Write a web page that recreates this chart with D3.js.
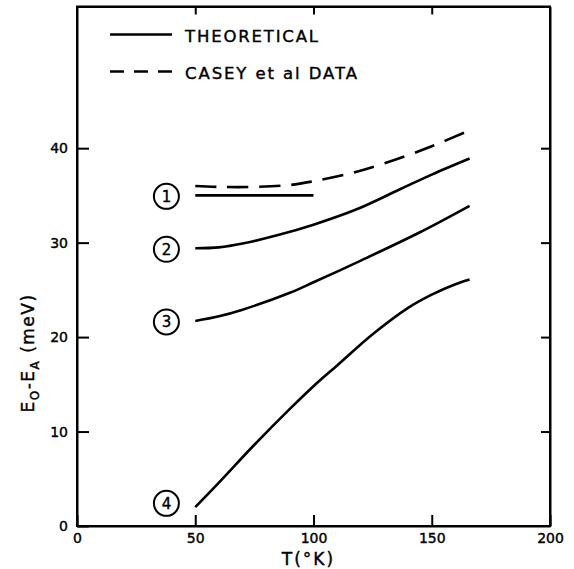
<!DOCTYPE html>
<html>

<head>
	<meta charset="utf-8">
	<script src="https://d3js.org/d3.v7.min.js"></script>
	<style>
		body {
			margin: 0;
			background-color: white;
			font-family: 'DejaVu Sans', sans-serif;
		}

		text {
			fill: black;
			stroke: black;
			stroke-width: 0.4px;
		}

		.axis path,
		.axis line {
			stroke: black;
			stroke-width: 2;
		}

		.axis text {
			font-size: 14px;
			font-family: 'DejaVu Sans', sans-serif;
		}
	</style>
</head>

<body>
	<div id="chart"></div>

	<script>
		// curve data (T in K, E0-EA in meV)
		var caseyT = [50, 60, 75, 90, 100, 115, 130, 150, 166];
		var caseyE = [36.0, 35.9, 35.9, 36.1, 36.5, 37.3, 38.4, 40.2, 41.9];

		var curve1T = [50, 100];
		var curve1E = [35, 35];

		var curve2T = [50, 60, 70, 85, 100, 118, 137, 150, 166];
		var curve2E = [29.4, 29.5, 29.9, 30.8, 31.9, 33.5, 35.7, 37.2, 38.9];

		var curve3T = [50, 60, 70, 90, 100, 120, 145, 166];
		var curve3E = [21.7, 22.2, 22.9, 24.7, 25.8, 28.1, 31.1, 33.9];

		var curve4T = [50, 60, 75, 90, 100, 110, 125, 140, 150, 160, 166];
		var curve4E = [2.0, 4.6, 8.6, 12.4, 14.8, 17.0, 20.3, 23.1, 24.5, 25.6, 26.1];

		// circled curve numbers
		var markerLabels = ["1", "2", "3", "4"];
		var markerT = [37.8, 37.8, 37.8, 37.8];
		var markerE = [34.9, 29.3, 21.6, 2.4];

		var xTicks = [0, 50, 100, 150, 200];
		var yTicks = [0, 10, 20, 30, 40];
		var legendNames = ["THEORETICAL", "CASEY et al DATA"];

		var margin = { top: 6.5, right: 24, bottom: 43, left: 77 };
		var width = 574 - margin.left - margin.right,
			height = 569 - margin.top - margin.bottom;

		var svg = d3.select("#chart")
			.append("svg")
			.attr("width", 574)
			.attr("height", 569)
			.append("g")
			.attr("transform", "translate(" + margin.left + "," + margin.top + ")");

		var x = d3.scaleLinear().domain([0, 200]).range([0, width]);
		var y = d3.scaleLinear().domain([0, 55]).range([height, 0]);

		// axes, ticks pointing into the frame
		svg.append("g")
			.attr("class", "axis")
			.attr("transform", "translate(0," + height + ")")
			.call(d3.axisBottom(x).tickValues(xTicks).tickSizeInner(-11).tickSizeOuter(0).tickPadding(7));

		svg.append("g")
			.attr("class", "axis")
			.call(d3.axisTop(x).tickValues([50, 100, 150]).tickSizeInner(-8).tickSizeOuter(0).tickFormat(""));

		svg.append("g")
			.attr("class", "axis")
			.call(d3.axisLeft(y).tickValues(yTicks).tickSizeInner(-12).tickSizeOuter(0).tickPadding(9));

		svg.append("g")
			.attr("class", "axis")
			.attr("transform", "translate(" + width + ",0)")
			.call(d3.axisRight(y).tickValues([10, 20, 30, 40]).tickSizeInner(-9).tickSizeOuter(0).tickFormat(""));

		// frame
		svg.append("rect")
			.attr("x", 0)
			.attr("y", 0)
			.attr("width", width)
			.attr("height", height)
			.style("fill", "none")
			.style("stroke", "black")
			.style("stroke-width", 2);

		// curves
		var line = d3.line()
			.x(function (d) { return x(d[0]); })
			.y(function (d) { return y(d[1]); })
			.curve(d3.curveCatmullRom.alpha(0.5));

		function pairs(ts, es) {
			return ts.map(function (t, i) { return [t, es[i]]; });
		}

		var theory = [pairs(curve1T, curve1E), pairs(curve2T, curve2E), pairs(curve3T, curve3E), pairs(curve4T, curve4E)];

		svg.selectAll(".theory")
			.data(theory)
			.enter().append("path")
			.attr("class", "theory")
			.attr("d", line)
			.style("fill", "none")
			.style("stroke", "black")
			.style("stroke-width", 2.6);

		svg.append("path")
			.attr("d", line(pairs(caseyT, caseyE)))
			.style("fill", "none")
			.style("stroke", "black")
			.style("stroke-width", 2.6)
			.style("stroke-dasharray", "21,11");

		// circled numbers
		var marker = svg.selectAll(".marker")
			.data(markerLabels)
			.enter().append("g")
			.attr("class", "marker")
			.attr("transform", function (d, i) { return "translate(" + x(markerT[i]) + "," + y(markerE[i]) + ")"; });

		marker.append("circle")
			.attr("r", 12.5)
			.style("fill", "none")
			.style("stroke", "black")
			.style("stroke-width", 2);

		marker.append("text")
			.attr("text-anchor", "middle")
			.attr("dy", "0.36em")
			.style("font-size", "15px")
			.text(function (d) { return d; });

		// legend
		var legendW = [133, 172];
		var legend = svg.selectAll(".legend")
			.data(legendNames)
			.enter().append("g")
			.attr("class", "legend")
			.attr("transform", function (d, i) { return "translate(33," + (28 + i * 37) + ")"; });

		legend.append("line")
			.attr("x1", 0)
			.attr("x2", 62)
			.attr("y1", 0)
			.attr("y2", 0)
			.style("stroke", "black")
			.style("stroke-width", 2.6)
			.style("stroke-dasharray", function (d, i) { return i == 1 ? "14,10" : null; });

		legend.append("text")
			.attr("x", 75)
			.attr("y", 7.2)
			.attr("textLength", function (d, i) { return legendW[i]; })
			.attr("lengthAdjust", "spacing")
			.style("font-size", "16.5px")
			.text(function (d) { return d; });

		// axis titles
		svg.append("text")
			.attr("x", width / 2 - 5)
			.attr("y", height + 39)
			.attr("text-anchor", "middle")
			.style("font-size", "17px")
			.style("letter-spacing", "2px")
			.text("T(\u00b0K)");

		var yTitle = svg.append("text")
			.attr("transform", "translate(" + (34 - margin.left) + "," + (353 - margin.top) + ") rotate(-90)")
			.attr("text-anchor", "middle")
			.style("font-size", "17px")
			.style("letter-spacing", "1.5px");
		yTitle.append("tspan").text("E");
		yTitle.append("tspan").attr("dy", 5).style("font-size", "12px").text("O");
		yTitle.append("tspan").attr("dy", -5).text("-E");
		yTitle.append("tspan").attr("dy", 5).style("font-size", "12px").text("A");
		yTitle.append("tspan").attr("dy", -5).text("  (meV)");
	</script>
</body>

</html>
